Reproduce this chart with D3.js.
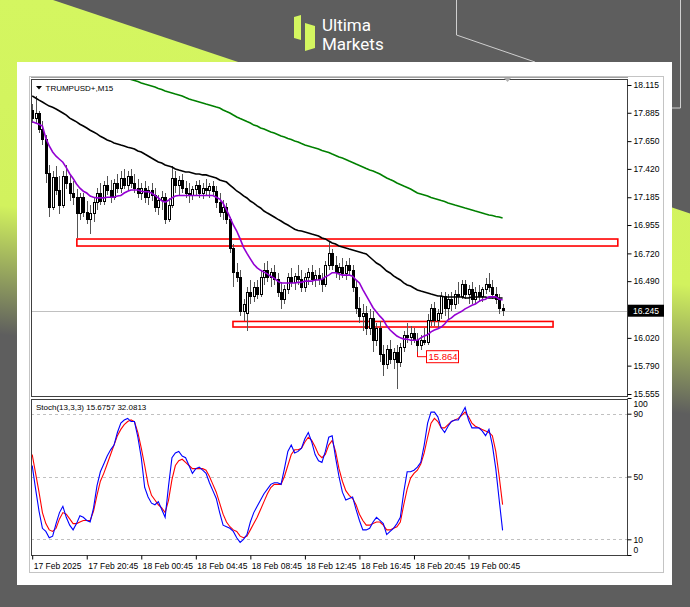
<!DOCTYPE html>
<html><head><meta charset="utf-8">
<script src="https://cdn.jsdelivr.net/npm/d3@7/dist/d3.min.js"></script>
<style>body{margin:0;background:#5e5e5e;}svg{display:block}</style>
</head><body>
<svg id="c" width="690" height="607"></svg>
<script>
// ---------- DATA ----------
const symbolTitle = "TRUMPUSD+,M15";
const stochTitle = "Stoch(13,3,3) 15.6757 32.0813";
const timeLabels = ["17 Feb 2025","17 Feb 20:45","18 Feb 00:45","18 Feb 04:45","18 Feb 08:45","18 Feb 12:45","18 Feb 16:45","18 Feb 20:45","19 Feb 00:45"];
const timeLabelBars = [0,16,32,48,64,80,96,112,128];
const priceTicks = [18.115,17.885,17.650,17.420,17.185,16.955,16.720,16.490,16.020,15.790,15.555];
const stochTicks = [100,90,50,10,0];
const stochLevels = [90,50,10];
const currentPrice = 16.245;
const lowMark = {bar:113, price:15.864, label:"15.864"};
const zones = [
  {from:13.1, to:171.8, top:16.839, bottom:16.781},
  {from:58.9, to:152.8, top:16.156, bottom:16.110}
];
const opens = [17.90,17.84,17.88,17.75,17.66,17.38,17.10,17.35,17.24,17.12,
17.36,17.30,17.22,17.18,17.05,17.18,17.06,17.00,17.05,17.14,
17.22,17.15,17.28,17.24,17.18,17.30,17.26,17.34,17.28,17.36,
17.30,17.26,17.22,17.26,17.18,17.24,17.20,17.10,17.16,17.18,
17.00,17.12,17.34,17.28,17.32,17.26,17.22,17.20,17.25,17.28,
17.22,17.26,17.24,17.27,17.23,17.14,17.06,17.10,17.00,16.76,
16.56,16.52,16.24,16.22,16.40,16.36,16.44,16.38,16.52,16.58,
16.52,16.56,16.50,16.40,16.34,16.42,16.52,16.48,16.53,16.50,
16.44,16.52,16.56,16.50,16.54,16.50,16.46,16.62,16.72,16.62,
16.56,16.60,16.55,16.62,16.58,16.44,16.26,16.20,16.22,16.10,
16.18,16.00,16.10,15.88,15.80,15.92,15.84,15.90,15.82,15.94,
16.04,16.02,16.06,16.00,15.96,16.00,15.98,16.16,16.26,16.16,
16.22,16.36,16.26,16.34,16.30,16.38,16.36,16.46,16.38,16.42,
16.34,16.40,16.36,16.42,16.46,16.44,16.38,16.34,16.26];
const highs = [17.96,18.02,17.90,17.82,17.70,17.45,17.40,17.44,17.36,17.40,
17.45,17.38,17.32,17.25,17.22,17.22,17.15,17.12,17.18,17.26,
17.30,17.32,17.36,17.33,17.34,17.38,17.40,17.42,17.40,17.42,
17.38,17.34,17.30,17.32,17.28,17.30,17.26,17.20,17.24,17.22,
17.18,17.44,17.40,17.36,17.38,17.32,17.30,17.28,17.32,17.33,
17.30,17.34,17.30,17.32,17.28,17.22,17.16,17.14,17.02,16.80,
16.64,16.58,16.34,16.44,16.50,16.48,16.50,16.58,16.64,16.66,
16.60,16.62,16.56,16.48,16.46,16.56,16.60,16.56,16.62,16.58,
16.56,16.60,16.62,16.58,16.60,16.56,16.66,16.82,16.76,16.70,
16.64,16.68,16.66,16.68,16.62,16.50,16.36,16.30,16.28,16.26,
16.24,16.14,16.16,15.96,15.96,16.00,15.94,15.96,15.98,16.08,
16.14,16.12,16.10,16.06,16.04,16.10,16.22,16.30,16.32,16.26,
16.40,16.40,16.38,16.40,16.42,16.48,16.50,16.50,16.46,16.48,
16.44,16.46,16.44,16.52,16.56,16.50,16.44,16.38,16.30];
const lows = [17.80,17.80,17.72,17.62,17.30,17.02,17.08,17.20,17.05,17.10,
17.25,17.15,17.12,16.85,17.00,17.02,16.96,16.88,16.98,17.08,
17.12,17.12,17.20,17.14,17.16,17.22,17.22,17.25,17.24,17.26,
17.22,17.18,17.16,17.14,17.12,17.15,17.06,17.04,17.08,16.96,
16.98,17.10,17.22,17.20,17.22,17.18,17.14,17.16,17.20,17.18,
17.17,17.20,17.18,17.20,17.10,17.02,17.00,16.96,16.72,16.44,
16.48,16.20,16.16,16.08,16.30,16.32,16.34,16.36,16.46,16.48,
16.44,16.46,16.36,16.26,16.30,16.38,16.44,16.42,16.46,16.40,
16.40,16.46,16.46,16.44,16.46,16.40,16.44,16.58,16.58,16.52,
16.50,16.52,16.50,16.54,16.40,16.22,16.14,16.08,16.04,16.04,
15.90,15.95,15.82,15.70,15.76,15.80,15.76,15.60,15.78,15.90,
15.98,15.96,15.98,15.86,15.92,15.96,15.96,16.12,16.12,16.10,
16.18,16.20,16.18,16.24,16.26,16.30,16.34,16.34,16.30,16.30,
16.30,16.32,16.32,16.38,16.40,16.34,16.30,16.22,16.20];
const closes = [17.84,17.88,17.75,17.66,17.38,17.10,17.35,17.24,17.12,17.36,
17.30,17.22,17.18,17.05,17.18,17.06,17.00,17.05,17.14,17.22,
17.15,17.28,17.24,17.18,17.30,17.26,17.34,17.28,17.36,17.30,
17.26,17.22,17.26,17.18,17.24,17.20,17.10,17.16,17.18,17.00,
17.12,17.34,17.28,17.32,17.26,17.22,17.20,17.25,17.28,17.22,
17.26,17.24,17.27,17.23,17.14,17.06,17.10,17.00,16.76,16.56,
16.52,16.24,16.30,16.40,16.36,16.44,16.38,16.52,16.58,16.52,
16.56,16.50,16.40,16.34,16.42,16.52,16.48,16.53,16.50,16.44,
16.52,16.56,16.50,16.54,16.50,16.46,16.62,16.72,16.62,16.56,
16.60,16.55,16.62,16.58,16.44,16.26,16.20,16.22,16.10,16.18,
16.00,16.10,15.88,15.80,15.92,15.84,15.90,15.82,15.94,16.04,
16.02,16.06,16.00,15.96,16.00,15.98,16.16,16.26,16.16,16.22,
16.36,16.26,16.34,16.30,16.38,16.36,16.46,16.38,16.42,16.34,
16.40,16.36,16.42,16.46,16.44,16.38,16.34,16.26,16.245];
const maFast = [17.81,17.80,17.79,17.775,17.675,17.61,17.56,17.525,17.50,17.475,
17.43,17.38,17.34,17.295,17.26,17.235,17.22,17.195,17.185,17.18,
17.18,17.18,17.185,17.185,17.185,17.195,17.20,17.22,17.235,17.245,
17.245,17.245,17.235,17.23,17.23,17.22,17.20,17.18,17.155,17.145,
17.16,17.18,17.195,17.20,17.20,17.20,17.20,17.20,17.20,17.20,
17.20,17.20,17.20,17.20,17.185,17.17,17.135,17.08,17.02,16.955,
16.905,16.84,16.77,16.72,16.675,16.63,16.60,16.58,16.565,16.55,
16.53,16.515,16.49,16.475,16.475,16.475,16.475,16.475,16.48,16.48,
16.49,16.49,16.49,16.50,16.50,16.505,16.525,16.54,16.56,16.56,
16.55,16.54,16.54,16.54,16.53,16.50,16.475,16.42,16.37,16.32,
16.27,16.235,16.20,16.17,16.12,16.085,16.06,16.035,16.02,16.01,
16.01,16.00,16.00,16.00,16.02,16.035,16.045,16.07,16.085,16.095,
16.11,16.135,16.17,16.185,16.21,16.225,16.24,16.26,16.275,16.29,
16.30,16.32,16.335,16.34,16.36,16.36,16.36,16.34,16.335];
const maMid = [18.024,18.007,17.99,17.974,17.957,17.94,17.93,17.916,17.90,17.883,
17.866,17.84,17.825,17.81,17.79,17.775,17.759,17.74,17.725,17.71,
17.69,17.676,17.66,17.65,17.635,17.627,17.618,17.61,17.60,17.593,
17.585,17.568,17.56,17.543,17.527,17.51,17.494,17.477,17.469,17.452,
17.444,17.436,17.419,17.41,17.403,17.394,17.394,17.386,17.378,17.378,
17.37,17.37,17.361,17.353,17.345,17.328,17.32,17.311,17.286,17.262,
17.237,17.22,17.196,17.179,17.154,17.137,17.113,17.096,17.071,17.054,
17.038,17.021,17.004,16.988,16.97,16.955,16.938,16.92,16.91,16.905,
16.897,16.889,16.88,16.872,16.864,16.847,16.84,16.822,16.806,16.798,
16.781,16.773,16.765,16.756,16.748,16.74,16.732,16.723,16.715,16.69,
16.665,16.64,16.624,16.60,16.574,16.558,16.533,16.516,16.50,16.475,
16.458,16.45,16.433,16.417,16.408,16.40,16.392,16.383,16.375,16.367,
16.367,16.359,16.359,16.359,16.359,16.359,16.359,16.35,16.35,16.359,
16.359,16.359,16.359,16.359,16.35,16.35,16.35,16.35,16.35];
const maSlow = [18.42,18.413,18.405,18.397,18.388,18.38,18.372,18.355,18.347,18.339,
18.33,18.322,18.306,18.297,18.289,18.28,18.272,18.264,18.256,18.248,
18.239,18.231,18.223,18.214,18.206,18.198,18.19,18.181,18.173,18.16,
18.152,18.144,18.132,18.123,18.115,18.107,18.098,18.086,18.078,18.065,
18.057,18.049,18.04,18.032,18.024,18.011,17.999,17.99,17.982,17.974,
17.966,17.957,17.949,17.941,17.932,17.924,17.908,17.895,17.883,17.866,
17.85,17.837,17.825,17.812,17.80,17.783,17.775,17.759,17.75,17.738,
17.726,17.717,17.705,17.692,17.684,17.672,17.663,17.651,17.643,17.63,
17.618,17.61,17.601,17.593,17.585,17.572,17.564,17.556,17.543,17.531,
17.518,17.51,17.498,17.485,17.473,17.46,17.448,17.436,17.423,17.411,
17.403,17.39,17.378,17.361,17.345,17.332,17.32,17.303,17.291,17.278,
17.266,17.253,17.237,17.22,17.212,17.204,17.196,17.183,17.175,17.167,
17.158,17.15,17.138,17.13,17.121,17.113,17.105,17.096,17.088,17.08,
17.071,17.063,17.055,17.046,17.038,17.034,17.026,17.021,17.013];
const stochK = [57,42,28,17,15,11,12,20,27,31,
24,19,16,20,25,24,22,21,30,44,
53,58,63,67,70,78,84,86,87,85,
85,75,62,43,37,33,32,34,29,24,
44,62,65,66,63,62,57,52,55,56,
54,52,46,41,36,27,19,18,17,15,
11,8,10,13,21,27,31,35,39,42,
45,46,46,45,55,66,70,65,66,68,
74,78,72,64,60,59,66,75,76,62,
50,40,35,36,37,29,22,16,16,17,
21,24,22,20,13,15,17,20,24,40,
53,53,54,56,59,70,84,91,91,88,
81,78,82,85,86,86,90,94,86,81,
81,81,79,76,80,70,55,35,15.6757];
const stochD = [64,52,40,27,20,16,15,17,23,27,
26,23,20,20,21,22,22,22,28,38,
47,52,58,64,70,76,80,83,85,86,
85,78,68,57,45,38,35,32,30,27,
35,48,57,60,61,59,57,55,55,55,
55,54,50,45,40,33,26,21,18,16,
15,12,11,12,16,20,24,29,34,39,
43,45,45,45,50,57,64,67,67,68,
72,75,73,69,64,62,64,70,73,66,
55,47,41,38,36,32,26,22,19,19,
20,21,21,19,16,16,17,18,21,32,
42,49,52,54,58,65,75,84,87,85,
81,81,83,85,86,87,89,91,88,84,
82,81,80,79,78,76,66,50,32.0813];

// ---------- DRAW ----------
const svg = d3.select('#c');
const defs = svg.append('defs');
const FONT = "'Liberation Sans', Arial, sans-serif";

// background
svg.append('rect').attr('width',690).attr('height',607).attr('fill','#5e5e5e');
const grad = defs.append('linearGradient').attr('id','lime').attr('gradientUnits','userSpaceOnUse')
  .attr('x1',40).attr('y1',0).attr('x2',0).attr('y2',345);
grad.append('stop').attr('offset',0).attr('stop-color','#d4f660');
grad.append('stop').attr('offset',0.6).attr('stop-color','#d2f25e');
grad.append('stop').attr('offset',0.97).attr('stop-color','#5e5e5e');
svg.append('path').attr('d','M0,0 L53,0 L690,213.5 L690,607 L0,607 Z').attr('fill','url(#lime)');
svg.append('path').attr('d','M456.5,0 V35 L535,62').attr('fill','none').attr('stroke','#cfcfcf').attr('stroke-width',1);
svg.append('path').attr('d','M680.5,0 V108 H672').attr('fill','none').attr('stroke','#cfcfcf').attr('stroke-width',1);

// logo
svg.append('path').attr('d','M294,17 L301,15 L301,40 L294,38 Z').attr('fill','#d4f660');
svg.append('path').attr('d','M305,23 L315,26 L315,48 L305,51 Z').attr('fill','#d4f660');
svg.append('text').attr('x',322).attr('y',31).text('Ultima')
  .attr('fill','#fff').attr('font-family',"Roboto, sans-serif").attr('font-size',17);
svg.append('text').attr('x',322).attr('y',50).text('Markets')
  .attr('fill','#fff').attr('font-family',"Roboto, sans-serif").attr('font-size',17);

// card
svg.append('rect').attr('x',17).attr('y',62).attr('width',655).attr('height',523).attr('fill','#fff');
svg.append('rect').attr('x',29.5).attr('y',76.5).attr('width',634).attr('height',496).attr('fill','#fff').attr('stroke','#c4c4c4');

// scales
const x = d3.scaleLinear().domain([0,138]).range([32.2,502.6]);
const y = d3.scaleLinear().domain([15.555,18.115]).range([394,85]);
const ys = d3.scaleLinear().domain([0,100]).range([555,398]);

const P = {l:31, r:627, t:79, b:396};
const S = {l:31, r:627, t:399, b:555};

defs.append('clipPath').attr('id','cm').append('rect').attr('x',P.l+1).attr('y',P.t+1).attr('width',P.r-P.l-1).attr('height',P.b-P.t-1);
defs.append('clipPath').attr('id','cs').append('rect').attr('x',S.l+1).attr('y',S.t+1).attr('width',S.r-S.l-1).attr('height',S.b-S.t-1);

// frames
svg.append('line').attr('x1',P.l).attr('x2',P.r+1).attr('y1',77.5).attr('y2',77.5).attr('stroke','#a0a0a0');
svg.append('rect').attr('x',P.l+0.5).attr('y',P.t+0.5).attr('width',P.r-P.l).attr('height',P.b-P.t).attr('fill','#fff').attr('stroke','#404040');
svg.append('rect').attr('x',S.l+0.5).attr('y',S.t+0.5).attr('width',S.r-S.l).attr('height',S.b-S.t).attr('fill','#fff').attr('stroke','#404040');

const main = svg.append('g').attr('clip-path','url(#cm)');
const sto = svg.append('g').attr('clip-path','url(#cs)');

// current price line
main.append('line').attr('x1',P.l).attr('x2',P.r).attr('y1',Math.round(y(currentPrice))+0.5).attr('y2',Math.round(y(currentPrice))+0.5)
  .attr('stroke','#c0c0c0');

// zones
main.selectAll('rect.zone').data(zones).join('rect').attr('class','zone')
  .attr('x',d=>x(d.from)).attr('width',d=>x(d.to)-x(d.from))
  .attr('y',d=>y(d.top)).attr('height',d=>y(d.bottom)-y(d.top))
  .attr('fill','#fff').attr('fill-opacity',0.6).attr('stroke','#ff0000').attr('stroke-width',1.6);

// candles
const bars = d3.range(closes.length).map(i=>({i,o:opens[i],h:highs[i],l:lows[i],c:closes[i]}));
const cg = main.append('g').attr('shape-rendering','crispEdges');
cg.selectAll('line.wick').data(bars).join('line').attr('class','wick')
  .attr('x1',d=>Math.round(x(d.i))+0.5).attr('x2',d=>Math.round(x(d.i))+0.5)
  .attr('y1',d=>y(d.h)).attr('y2',d=>y(d.l)).attr('stroke','#555').attr('stroke-width',1);
cg.selectAll('rect.body').data(bars).join('rect').attr('class','body')
  .attr('x',d=>Math.round(x(d.i))-0.5).attr('width',2)
  .attr('y',d=>y(Math.max(d.o,d.c))).attr('height',d=>Math.max(1,Math.abs(y(d.o)-y(d.c))))
  .attr('fill',d=>d.c>=d.o?'#fff':'#000').attr('stroke','#000').attr('stroke-width',1);

// moving averages
const ln = d3.line().x((d,i)=>x(i)).y(d=>y(d));
main.append('path').attr('d',ln(maSlow)).attr('fill','none').attr('stroke','#008000').attr('stroke-width',1.6);
main.append('path').attr('d',ln(maMid)).attr('fill','none').attr('stroke','#000').attr('stroke-width',1.6);
main.append('path').attr('d',ln(maFast)).attr('fill','none').attr('stroke','#9400d3').attr('stroke-width',1.6);

// low annotation
const lx = Math.round(x(lowMark.bar))+0.5, ly = y(lowMark.price);
svg.append('path').attr('d',`M${lx},${ly-5} V${ly} H${lx+9}`).attr('fill','none').attr('stroke','#ff0000');
svg.append('rect').attr('x',lx+9).attr('y',ly-6).attr('width',32).attr('height',12).attr('fill','#fff').attr('stroke','#ff0000');
svg.append('text').attr('x',lx+11).attr('y',ly+3.5).text(lowMark.label).attr('fill','#ff0000')
  .attr('font-family',FONT).attr('font-size',9.5);

// shift marker
svg.append('path').attr('d','M504,78 L511,78 L507.5,82 Z').attr('fill','#b0b0b0');

// title
svg.append('path').attr('d','M36,86 L42,86 L39,89.5 Z').attr('fill','#000');
svg.append('text').attr('x',45.5).attr('y',90.5).text(symbolTitle).attr('font-family',FONT).attr('font-size',8).attr('fill','#000');

// price axis
const pa = svg.append('g').attr('transform',`translate(${P.r+0.5},0)`)
  .call(d3.axisRight(y).tickValues(priceTicks).tickSize(4).tickPadding(2).tickFormat(d3.format('.3f')));
pa.select('.domain').remove();
pa.selectAll('text').attr('font-family',FONT).attr('font-size',8.5).attr('fill','#000');
pa.selectAll('line').attr('stroke','#000');
// current price box
const cy = y(currentPrice);
svg.append('rect').attr('x',P.r+1).attr('y',cy-6).attr('width',36).attr('height',12).attr('fill','#000');
svg.append('text').attr('x',P.r+6).attr('y',cy+3.2).text(d3.format('.3f')(currentPrice))
  .attr('fill','#fff').attr('font-family',FONT).attr('font-size',8.5);

// stochastic
sto.selectAll('line.lvl').data(stochLevels).join('line').attr('class','lvl')
  .attr('x1',S.l).attr('x2',S.r).attr('y1',d=>Math.round(ys(d))+0.5).attr('y2',d=>Math.round(ys(d))+0.5)
  .attr('stroke','#c0c0c0').attr('stroke-dasharray','3,3');
const sl = d3.line().x((d,i)=>x(i)).y(d=>ys(d));
sto.append('path').attr('d',sl(stochD)).attr('fill','none').attr('stroke','#ff0000').attr('stroke-width',1.1);
sto.append('path').attr('d',sl(stochK)).attr('fill','none').attr('stroke','#0000ff').attr('stroke-width',1.1);
svg.append('text').attr('x',36).attr('y',409.5).text(stochTitle).attr('font-family',FONT).attr('font-size',8).attr('fill','#000');

const sa = svg.append('g').attr('transform',`translate(${S.r+0.5},0)`)
  .call(d3.axisRight(ys).tickValues(stochTicks).tickSize(4).tickPadding(2));
sa.select('.domain').remove();
sa.selectAll('text').attr('font-family',FONT).attr('font-size',8.5).attr('fill','#000')
  .attr('dy',d=>d===100?'0.95em':(d===0?'-0.3em':'0.32em'));
sa.selectAll('line').attr('stroke','#000');

// time axis
const ta = svg.append('g').attr('transform',`translate(0,${S.b+0.5})`)
  .call(d3.axisBottom(x).tickValues(timeLabelBars).tickSize(4).tickPadding(3).tickFormat((d,i)=>timeLabels[i]));
ta.select('.domain').remove();
ta.selectAll('text').attr('font-family',FONT).attr('font-size',8.5).attr('fill','#000').attr('text-anchor','start').attr('dx',1);
ta.selectAll('line').attr('stroke','#000');
</script>
</body></html>
